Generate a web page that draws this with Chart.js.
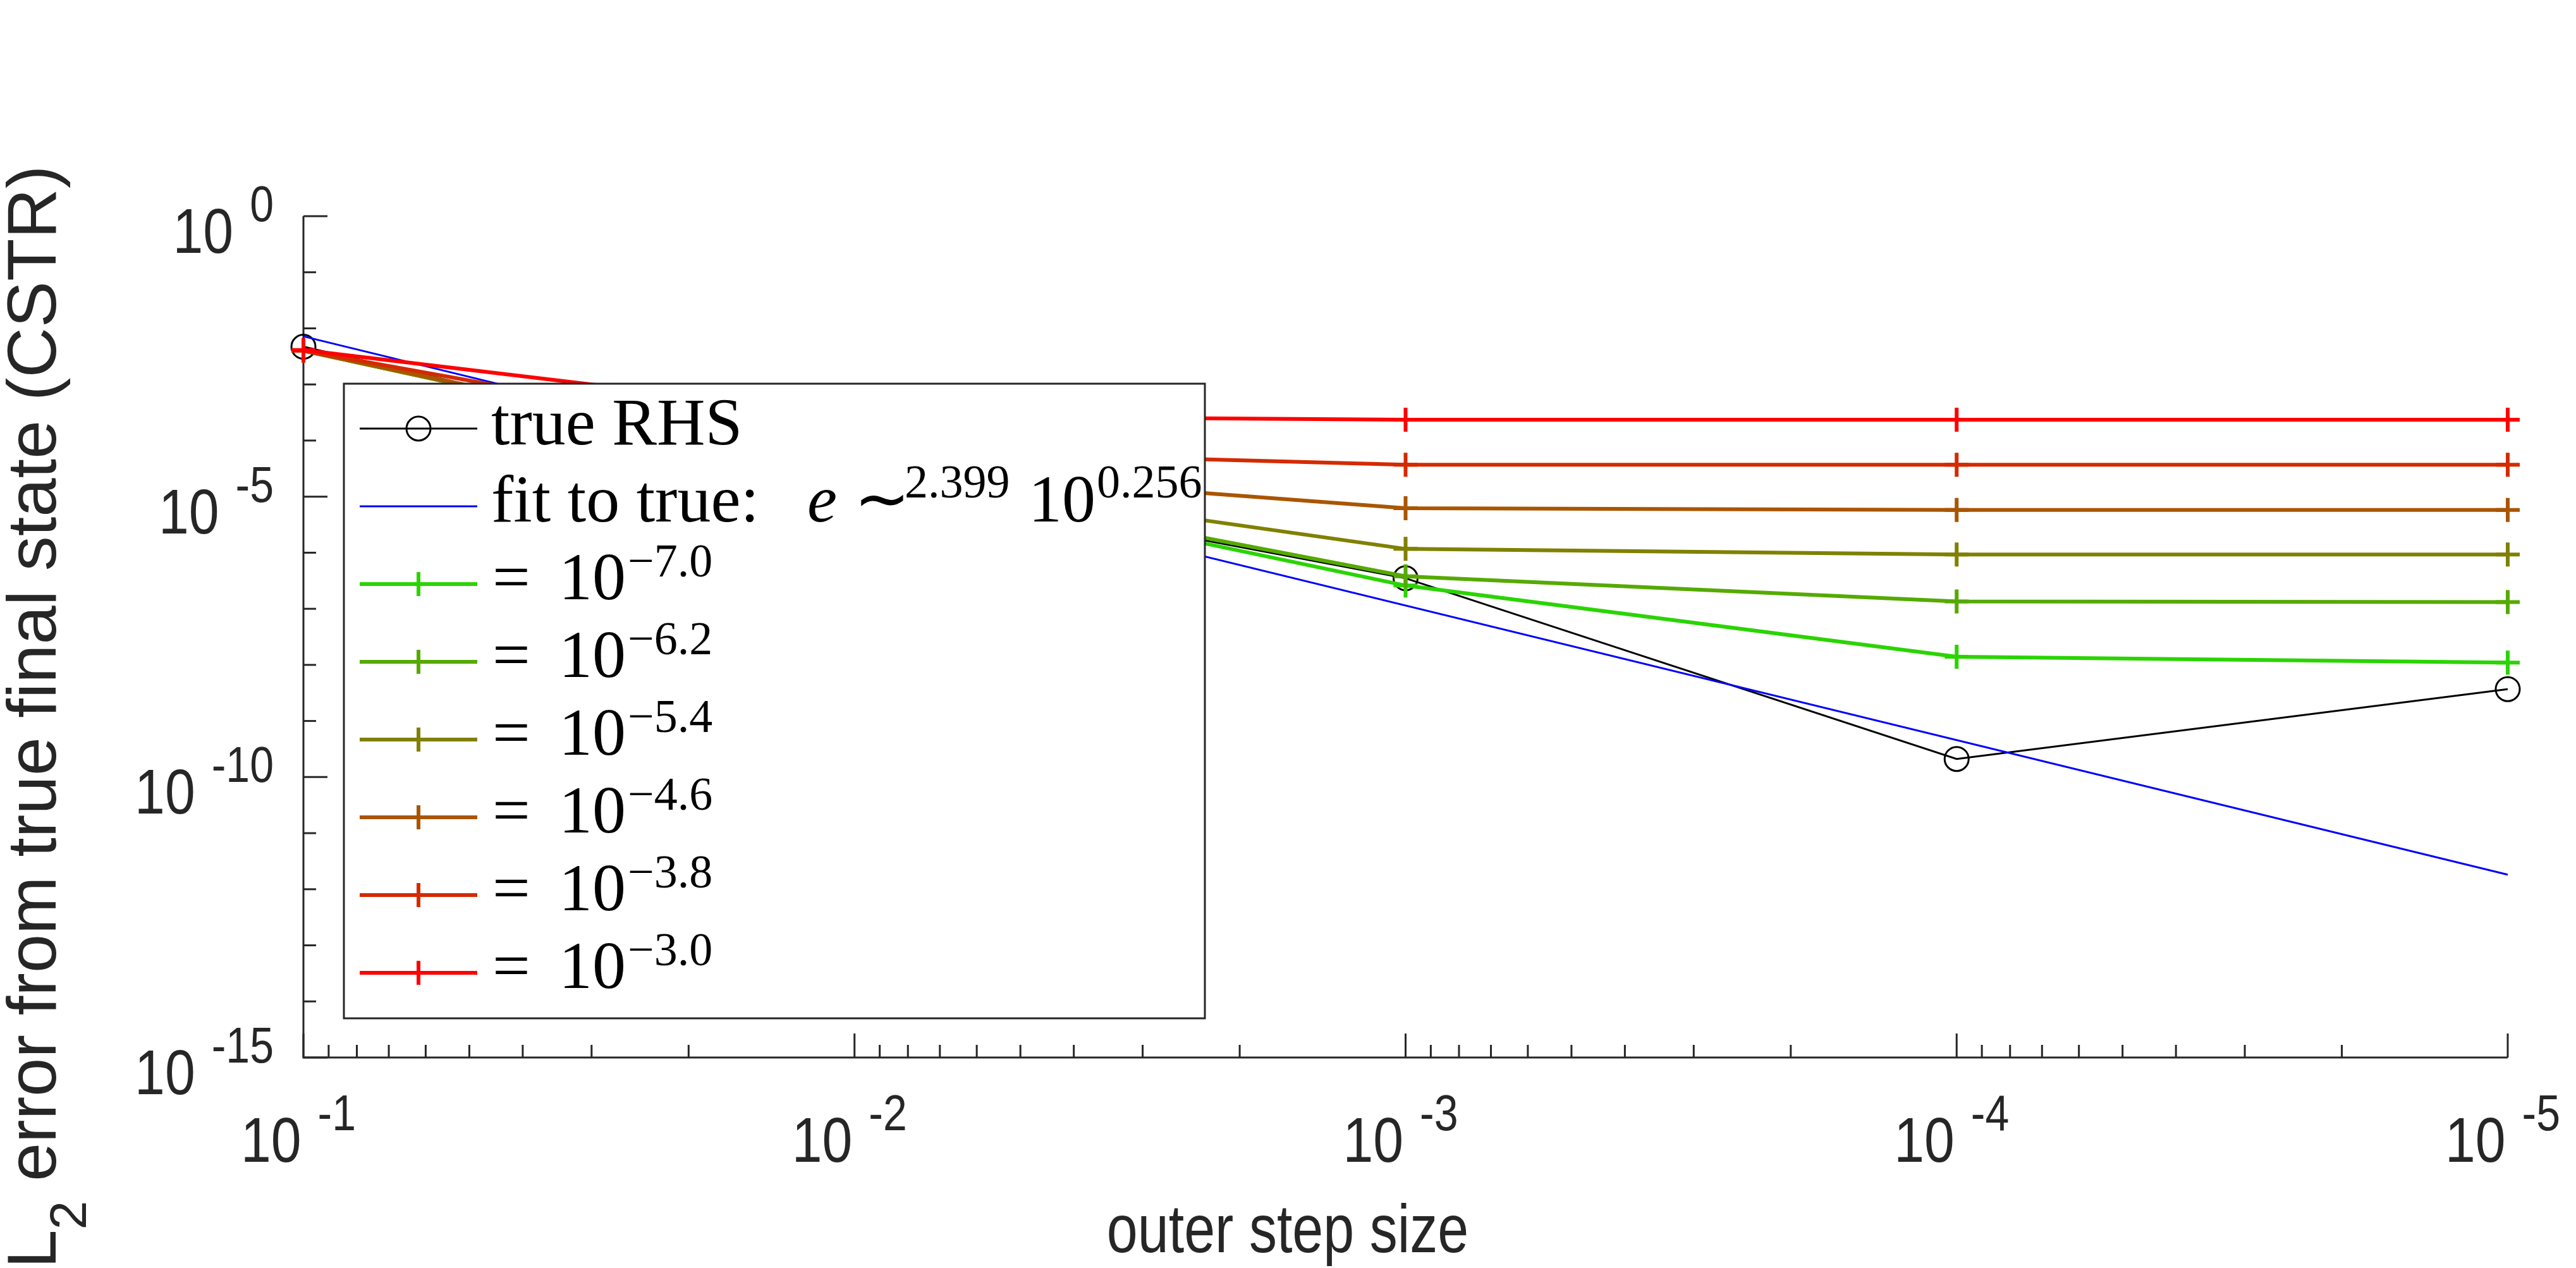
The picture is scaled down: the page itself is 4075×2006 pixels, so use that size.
<!DOCTYPE html>
<html lang="en">
<head>
<meta charset="UTF-8">
<title>Outer step size convergence (CSTR)</title>
<script src="https://cdn.jsdelivr.net/npm/chart.js"></script>
<style>
  html, body { margin: 0; padding: 0; background: #ffffff; }
  #wrap { width: 4075px; height: 2006px; }
</style>
</head>
<body>
<div id="wrap"><canvas id="errChart" width="4075" height="2006"></canvas></div>
<script>
// outer step sizes (x axis runs from 1e-1 on the left to 1e-5 on the right)
const stepSizes = [1e-1, 1e-2, 1e-3, 1e-4, 1e-5];

// error of the run with the true right hand side
const trueRhs = [4.7e-3, 2.5e-5, 3.5e-7, 2.1e-10, 3.7e-9];

// straight fit line through the true RHS errors (end points)
const fitSteps = [1e-1, 1e-5];
const fitValues = [7.2e-3, 1.82e-12];

// one series per inner tolerance, legend order
const tolExps = ['\u22127.0', '\u22126.2', '\u22125.4', '\u22124.6', '\u22123.8', '\u22123.0'];
const tol70 = [4.0e-3, 3.0e-5, 2.6e-7, 1.4e-8, 1.1e-8];
const tol62 = [4.0e-3, 2.9e-5, 3.8e-7, 1.35e-7, 1.32e-7];
const tol54 = [4.0e-3, 2.9e-5, 1.17e-6, 9.3e-7, 9.3e-7];
const tol46 = [4.0e-3, 3.4e-5, 6.2e-6, 5.8e-6, 5.8e-6];
const tol38 = [4.0e-3, 6.8e-5, 3.7e-5, 3.7e-5, 3.7e-5];
const tol30 = [4.1e-3, 2.75e-4, 2.35e-4, 2.35e-4, 2.35e-4];
const tolSeries = [tol70, tol62, tol54, tol46, tol38, tol30];
const tolColors = ['#2ad400', '#55aa00', '#808000', '#aa5500', '#d42a00', '#ff0000'];

// axis tick labels (exponents of 10)
const xTickExps = ['-1', '-2', '-3', '-4', '-5'];
const yTickExps = ['0', '-5', '-10', '-15'];

const xTitle = 'outer step size';
const yTitle = ' error from true final state (CSTR)';

const INK = '#262626';
const SANS = '"Liberation Sans", Arial, Helvetica, sans-serif';
const SERIF = '"Liberation Serif", "Times New Roman", serif';

function toPoints(xs, ys) {
    return xs.map((x, i) => ({ x: x, y: ys[i] }));
}

// MATLAB style text is tall and narrow, so stretch it vertically
function tallText(ctx, str, x, y, size, stretch, align) {
    ctx.save();
    ctx.font = size + 'px ' + SANS;
    ctx.textAlign = align || 'left';
    ctx.textBaseline = 'alphabetic';
    ctx.translate(x, y);
    ctx.scale(1, stretch);
    ctx.fillText(str, 0, 0);
    ctx.restore();
}

function powerLabel(ctx, exp, anchorX, baseY, align) {
    ctx.font = '86px ' + SANS;
    const wb = ctx.measureText('10').width;
    ctx.font = '68px ' + SANS;
    const we = ctx.measureText(exp).width;
    const gap = 26;
    const total = wb + gap + we;
    const x0 = align === 'right' ? anchorX - total : anchorX - total / 2;
    tallText(ctx, '10', x0, baseY, 86, 1.16);
    tallText(ctx, exp, x0 + wb + gap, baseY - 50, 68, 1.16);
}

function serifText(ctx, str, x, y, size, italic) {
    ctx.font = (italic ? 'italic ' : '') + size + 'px ' + SERIF;
    ctx.textAlign = 'left';
    ctx.textBaseline = 'alphabetic';
    ctx.fillText(str, x, y);
    return ctx.measureText(str).width;
}

// axes, inward ticks and tick labels, drawn under the data
const matlabAxes = {
    id: 'matlabAxes',
    beforeDatasetsDraw(chart) {
        const ctx = chart.ctx;
        const xs = chart.scales.x, ys = chart.scales.y;
        const a = chart.chartArea;
        ctx.save();
        ctx.strokeStyle = INK;
        ctx.lineWidth = 3;
        ctx.beginPath();
        ctx.moveTo(a.left, a.top);
        ctx.lineTo(a.left, a.bottom);
        ctx.lineTo(a.right, a.bottom);
        ctx.stroke();

        // y ticks: one per decade, long at every 5th
        for (let e = 0; e >= -15; e--) {
            const py = ys.getPixelForValue(Math.pow(10, e));
            const len = e % 5 === 0 ? 38 : 20;
            ctx.beginPath();
            ctx.moveTo(a.left, py);
            ctx.lineTo(a.left + len, py);
            ctx.stroke();
        }
        // x ticks: decades long, 2..9 short
        for (let e = -1; e >= -5; e--) {
            const px = xs.getPixelForValue(Math.pow(10, e));
            ctx.beginPath();
            ctx.moveTo(px, a.bottom);
            ctx.lineTo(px, a.bottom - 38);
            ctx.stroke();
            if (e > -5) {
                for (let m = 2; m <= 9; m++) {
                    const mx = xs.getPixelForValue(m * Math.pow(10, e - 1));
                    ctx.beginPath();
                    ctx.moveTo(mx, a.bottom);
                    ctx.lineTo(mx, a.bottom - 20);
                    ctx.stroke();
                }
            }
        }

        ctx.fillStyle = INK;
        xTickExps.forEach(exp => {
            const px = xs.getPixelForValue(Math.pow(10, Number(exp)));
            powerLabel(ctx, exp, px - 8, a.bottom + 165, 'center');
        });
        yTickExps.forEach(exp => {
            const py = ys.getPixelForValue(Math.pow(10, Number(exp)));
            powerLabel(ctx, exp, a.left - 47, py + 58, 'right');
        });

        // axis titles
        tallText(ctx, xTitle, 2037, 1981, 88, 1.22, 'center');

        ctx.save();
        ctx.translate(88, 1134);
        ctx.rotate(-Math.PI / 2);
        ctx.font = '110px ' + SANS;
        const wL = ctx.measureText('L').width;
        const wRest = ctx.measureText(yTitle).width;
        ctx.font = '82px ' + SANS;
        const wSub = ctx.measureText('2').width;
        let tx = -(wL + wSub + wRest) / 2;
        ctx.textAlign = 'left';
        ctx.textBaseline = 'alphabetic';
        ctx.font = '110px ' + SANS;
        ctx.fillText('L', tx, 0);
        tx += wL;
        ctx.font = '82px ' + SANS;
        ctx.fillText('2', tx, 48);
        tx += wSub;
        ctx.font = '110px ' + SANS;
        ctx.fillText(yTitle, tx, 0);
        ctx.restore();

        ctx.restore();
    }
};

// boxed legend with LaTeX-like entries, drawn over the data
const matlabLegend = {
    id: 'matlabLegend',
    afterDatasetsDraw(chart) {
        const ctx = chart.ctx;
        const box = { x: 544, y: 607, w: 1362, h: 1004 };
        const rowY = i => 678 + i * 123;
        const lineX0 = 569, lineX1 = 755, markX = 662, textX = 777;
        const fs = 106, sup = 74;

        ctx.save();
        ctx.fillStyle = '#ffffff';
        ctx.fillRect(box.x, box.y, box.w, box.h);
        ctx.strokeStyle = INK;
        ctx.lineWidth = 3;
        ctx.strokeRect(box.x, box.y, box.w, box.h);

        const sample = (y, color, width) => {
            ctx.strokeStyle = color;
            ctx.lineWidth = width;
            ctx.beginPath();
            ctx.moveTo(lineX0, y);
            ctx.lineTo(lineX1, y);
            ctx.stroke();
        };

        // true RHS
        let y = rowY(0);
        sample(y, '#000000', 3);
        ctx.beginPath();
        ctx.arc(markX, y, 19, 0, Math.PI * 2);
        ctx.stroke();
        ctx.fillStyle = '#000000';
        serifText(ctx, 'true RHS', textX, y + 25, fs);

        // fit line
        y = rowY(1);
        sample(y, '#0000ff', 3);
        ctx.fillStyle = '#000000';
        serifText(ctx, 'fit to true:', textX, y + 24, fs);
        serifText(ctx, 'e', textX + 500, y + 24, fs, true);
        serifText(ctx, '\u223C', textX + 574, y + 24, fs);
        serifText(ctx, '2.399', textX + 654, y - 14, sup);
        const w10 = serifText(ctx, '10', textX + 850, y + 24, fs);
        serifText(ctx, '0.256', textX + 850 + w10 + 2, y - 14, sup);

        // tolerance series
        tolExps.forEach((exp, i) => {
            const yy = rowY(i + 2);
            sample(yy, tolColors[i], 6);
            ctx.beginPath();
            ctx.moveTo(markX, yy - 19);
            ctx.lineTo(markX, yy + 19);
            ctx.moveTo(markX - 19, yy);
            ctx.lineTo(markX + 19, yy);
            ctx.stroke();
            ctx.fillStyle = '#000000';
            serifText(ctx, '=', textX + 2, yy + 24, fs);
            const wb = serifText(ctx, '10', textX + 107, yy + 24, fs);
            serifText(ctx, exp, textX + 107 + wb + 3, yy - 12, sup);
        });
        ctx.restore();
    }
};

const datasets = [
    {
        label: 'true RHS',
        data: toPoints(stepSizes, trueRhs),
        borderColor: '#000000',
        borderWidth: 3,
        pointStyle: 'circle',
        pointRadius: 19,
        pointBorderWidth: 3,
        pointBorderColor: '#000000',
        pointBackgroundColor: 'rgba(0,0,0,0)'
    },
    {
        label: 'fit to true',
        data: toPoints(fitSteps, fitValues),
        borderColor: '#0000ff',
        borderWidth: 3,
        pointRadius: 0
    }
];
tolSeries.forEach((vals, i) => {
    datasets.push({
        label: '= 10^' + tolExps[i],
        data: toPoints(stepSizes, vals),
        borderColor: tolColors[i],
        borderWidth: 6,
        pointStyle: 'cross',
        pointRadius: 19,
        pointBorderWidth: 6,
        pointBorderColor: tolColors[i]
    });
});
// later series are painted over earlier ones, as in the original plot
datasets.forEach((d, i) => {
    d.order = datasets.length - i;
    d.clip = false;
    d.tension = 0;
    d.fill = false;
    d.pointHoverRadius = d.pointRadius;
});

const ctx = document.getElementById('errChart').getContext('2d');
const errChart = new Chart(ctx, {
    type: 'line',
    data: { datasets: datasets },
    options: {
        responsive: false,
        devicePixelRatio: 1,
        animation: false,
        layout: { padding: { left: 480, right: 108, top: 342, bottom: 333 } },
        plugins: {
            legend: { display: false },
            tooltip: { enabled: false }
        },
        scales: {
            x: { type: 'logarithmic', min: 1e-5, max: 1e-1, reverse: true, display: false },
            y: { type: 'logarithmic', min: 1e-15, max: 1, display: false }
        }
    },
    plugins: [matlabAxes, matlabLegend]
});
</script>
</body>
</html>
